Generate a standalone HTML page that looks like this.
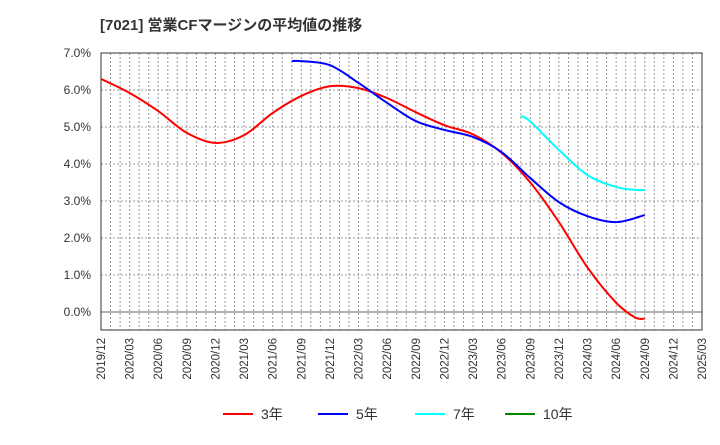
<!DOCTYPE html>
<html><head><meta charset="utf-8"><style>
body{margin:0;background:#fff;font-family:"Liberation Sans","Noto Sans CJK JP",sans-serif}
</style></head><body>
<svg id="c" width="720" height="440" xmlns="http://www.w3.org/2000/svg">
<text x="100" y="30" font-size="15" font-weight="bold" fill="#333" font-family="Liberation Sans, Noto Sans CJK JP, sans-serif">[7021]  営業CFマージンの平均値の推移</text>
<g id="grid"></g><g id="axes"></g><g id="series"></g><g id="legend"></g>
</svg>
<script>
const xLabels=["2019/12","2020/03","2020/06","2020/09","2020/12","2021/03","2021/06","2021/09","2021/12","2022/03","2022/06","2022/09","2022/12","2023/03","2023/06","2023/09","2023/12","2024/03","2024/06","2024/09","2024/12","2025/03"];
const yTicks=[0,1,2,3,4,5,6,7];
const s3m=[0,3,6,9,12,15,18,21,24,27,30,33,36,39,42,45,48,51,54,56,57];
const s3v=[6.3,5.92,5.43,4.84,4.57,4.78,5.38,5.84,6.1,6.05,5.78,5.4,5.05,4.8,4.3,3.5,2.43,1.2,0.25,-0.15,-0.18];
const s5m=[20,21,24,27,30,33,36,39,42,45,48,51,54,57];
const s5v=[6.78,6.78,6.67,6.19,5.65,5.16,4.92,4.73,4.32,3.62,2.97,2.59,2.43,2.62];
const s7m=[44,45,48,51,54,56,57];
const s7v=[5.3,5.15,4.38,3.7,3.38,3.3,3.3];
const L=101,R=702,T=53,B=330;
const X=m=>L+m*(R-L)/63;
const Y=v=>312-v*37;
const NS="http://www.w3.org/2000/svg";
function mk(p,t,a){const e=document.createElementNS(NS,t);for(const k in a)e.setAttribute(k,a[k]);p.appendChild(e);return e;}
const g=document.getElementById('grid'),ax=document.getElementById('axes'),sg=document.getElementById('series'),lg=document.getElementById('legend');
for(let m=1;m<63;m++){const l=mk(g,'line',{x1:X(m),x2:X(m),y1:T,y2:B,stroke:'#999','stroke-dasharray':'2,2','stroke-width':1});

}
yTicks.forEach(v=>{const y=Y(v);
const l=mk(g,'line',{x1:L,x2:R,y1:y,y2:y,stroke:v===0?'#666':'#999','stroke-dasharray':v===0?'':'2,2','stroke-width':1});


const t=mk(ax,'text',{x:91,y:y+4,'text-anchor':'end','font-size':12,fill:'#333'});t.textContent=v.toFixed(1)+'%';

});
const fr=mk(ax,'rect',{x:L,y:T,width:R-L,height:B-T,fill:'none',stroke:'#333','stroke-width':1});


xLabels.forEach((s,i)=>{const x=X(i*3)+4,y=B+8;
const t=mk(ax,'text',{x:x,y:y,'text-anchor':'end','font-size':11.5,fill:'#333',transform:`rotate(-90 ${x} ${y})`});t.textContent=s;

});
function path(ms,vs){const p=ms.map((m,i)=>[X(m),Y(vs[i])]);let d=`M${p[0][0]},${p[0][1]}`;
for(let i=0;i<p.length-1;i++){const p0=p[i-1]||p[i],p1=p[i],p2=p[i+1],p3=p[i+2]||p2;
d+=` C${p1[0]+(p2[0]-p0[0])/6},${p1[1]+(p2[1]-p0[1])/6} ${p2[0]-(p3[0]-p1[0])/6},${p2[1]-(p3[1]-p1[1])/6} ${p2[0]},${p2[1]}`;}return d;}
[[s3m,s3v,'#f00','line-3yr'],[s5m,s5v,'#00f','line-5yr'],[s7m,s7v,'#0ff','line-7yr']].forEach(([m,v,c,n])=>{
const p=mk(sg,'path',{d:path(m,v),fill:'none',stroke:c,'stroke-width':2});

});
[['3年','#f00',223],['5年','#00f',318],['7年','#0ff',415],['10年','#080',505]].forEach(([t,c,x])=>{
const l=mk(lg,'line',{x1:x,x2:x+30,y1:414,y2:414,stroke:c,'stroke-width':2});


const tx=mk(lg,'text',{x:x+38,y:419,'font-size':14,fill:'#333'});tx.textContent=t;

});
</script>
</body></html>
